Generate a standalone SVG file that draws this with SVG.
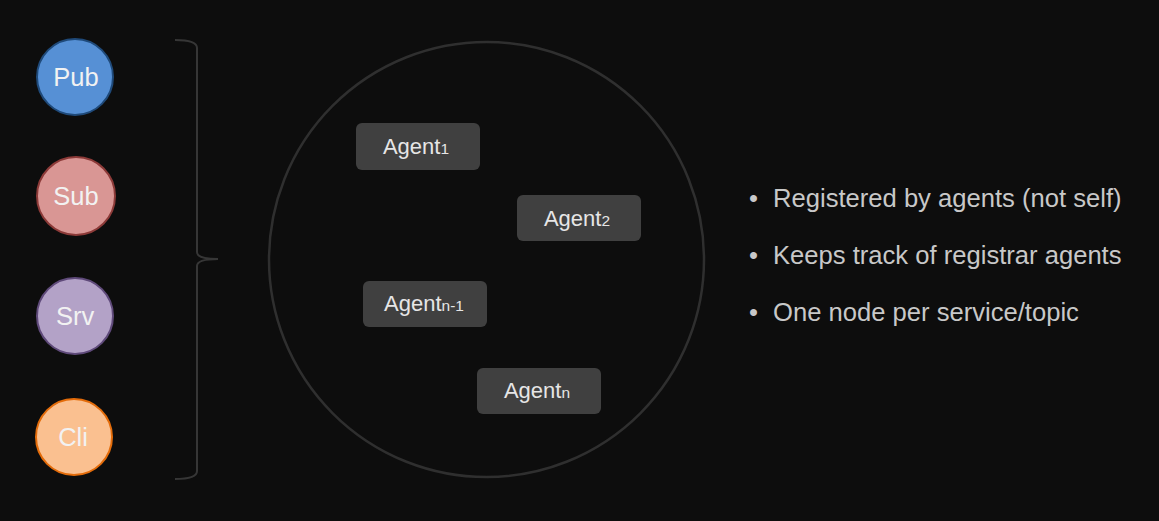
<svg xmlns="http://www.w3.org/2000/svg" width="1159" height="521" viewBox="0 0 1159 521">
<style>
.bg{fill:#0d0d0d}
.nt{font-family:"Liberation Sans",Arial,sans-serif;font-size:25.5px;fill:#f2f2f2;text-anchor:middle}
.box{fill:#404040}
.at{font-family:"Liberation Sans",Arial,sans-serif;font-size:22px;fill:#e6e6e6;text-anchor:middle}
.sub{font-size:15.5px}
.bt{font-family:"Liberation Sans",Arial,sans-serif;font-size:25.6px;fill:#c8c8c8}
</style>
<rect class="bg" x="0" y="0" width="1159" height="521"/>
<g id="pub"><circle cx="75" cy="77" r="38" fill="#5690d5" stroke="#1f4a7a" stroke-width="2"/><text class="nt" x="76" y="86">Pub</text></g>
<g id="sub"><circle cx="76" cy="196" r="39" fill="#d99694" stroke="#8c3a38" stroke-width="2"/><text class="nt" x="76" y="205">Sub</text></g>
<g id="srv"><circle cx="75" cy="316" r="38" fill="#b3a2c7" stroke="#5f4a7a" stroke-width="2"/><text class="nt" x="75" y="325">Srv</text></g>
<g id="cli"><circle cx="74" cy="437" r="38" fill="#fac090" stroke="#e46c0a" stroke-width="2"/><text class="nt" x="73" y="446">Cli</text></g>
<g id="connectors">
<path d="M175 40 Q197 40 197 48 L197 252 Q197 259 218 259 Q197 259 197 266 L197 471 Q197 479 175 479" fill="none" stroke="#363636" stroke-width="2"/>
</g>
<g id="cloud"><circle cx="486.5" cy="259.5" r="217.5" fill="none" stroke="#2f2f2f" stroke-width="2.5"/></g>
<g id="agent1"><rect class="box" x="356" y="123" width="124" height="47" rx="6"/><text class="at" x="416" y="154">Agent<tspan class="sub">1</tspan></text></g>
<g id="agent2"><rect class="box" x="517" y="195" width="124" height="46" rx="6"/><text class="at" x="577" y="226">Agent<tspan class="sub">2</tspan></text></g>
<g id="agentn1"><rect class="box" x="363" y="281" width="124" height="46" rx="6"/><text class="at" x="424" y="311">Agent<tspan class="sub">n-1</tspan></text></g>
<g id="agentn"><rect class="box" x="477" y="368" width="124" height="46" rx="6"/><text class="at" x="537" y="398">Agent<tspan class="sub">n</tspan></text></g>
<g id="bullets">
<text class="bt" x="749" y="207">•</text><text class="bt" x="773" y="207">Registered by agents (not self)</text>
<text class="bt" x="749" y="264">•</text><text class="bt" x="773" y="264">Keeps track of registrar agents</text>
<text class="bt" x="749" y="321">•</text><text class="bt" x="773" y="321">One node per service/topic</text>
</g>
</svg>
